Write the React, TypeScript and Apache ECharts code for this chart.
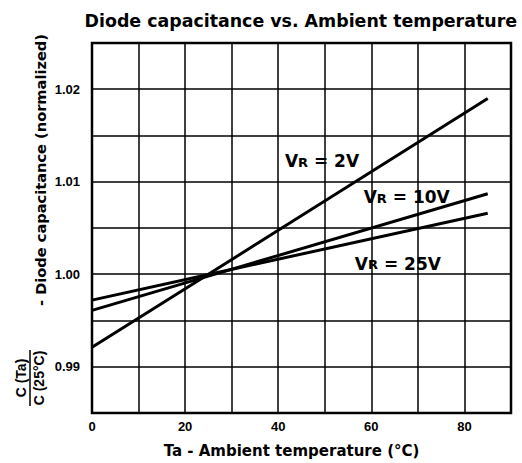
import React, { useEffect, useRef } from "react";
import * as echarts from "echarts";

const temps = [0, 25, 85];
const vr2 = [0.9921, 1.0, 1.019];
const vr10 = [0.9961, 0.9998, 1.0087];
const vr25 = [0.9972, 0.99997, 1.0066];
const seriesNames = ["2V", "10V", "25V"];
const xTickLabels = [0, 20, 40, 60, 80];
const yTickLabels = ["0.99", "1.00", "1.01", "1.02"];

const labelAnchors: [number, number][] = [
  [49.4, 1.0124],
  [67.6, 1.0085],
  [65.7, 1.0013],
];

export default function App() {
  const ref = useRef<HTMLDivElement>(null);
  useEffect(() => {
    if (!ref.current) return;
    const chart = echarts.init(ref.current, undefined, { renderer: "svg" });
    const font = "'Liberation Sans', Arial, sans-serif";
    const wide = "'DejaVu Sans', sans-serif";
    const all = [vr2, vr10, vr25];
    const series = all.map((vals, i) => ({
      type: "line",
      name: seriesNames[i],
      data: temps.map((t, j) => [t, vals[j]]),
      symbol: "none",
      lineStyle: { color: "#000", width: 3 },
      markPoint: {
        symbol: "circle",
        symbolSize: 0,
        data: [
          {
            coord: labelAnchors[i],
            label: {
              show: true,
              position: "inside",
              formatter: `{v|V}{r|R}{v| = ${seriesNames[i]}}`,
              rich: {
                v: { fontFamily: wide, fontWeight: "bold", fontSize: 17, color: "#000", lineHeight: 20, verticalAlign: "bottom" },
                r: { fontFamily: wide, fontWeight: "bold", fontSize: 13, color: "#000", lineHeight: 20, verticalAlign: "bottom", padding: [0, 0, 1, 0] },
              },
            },
          },
        ],
      },
    }));
    chart.setOption({
      animation: false,
      backgroundColor: "#fff",
      title: {
        text: "Diode capacitance vs. Ambient temperature",
        right: 0,
        top: 7,
        textStyle: { fontFamily: wide, fontWeight: "bold", fontSize: 17.4, color: "#000" },
      },
      grid: {
        left: 92,
        right: 11,
        top: 43,
        bottom: 48,
        show: true,
        borderColor: "#000",
        borderWidth: 2.5,
        backgroundColor: "transparent",
      },
      xAxis: {
        type: "value",
        min: 0,
        max: 90,
        interval: 10,
        axisLine: { show: false },
        axisTick: { show: false },
        splitLine: { show: true, lineStyle: { color: "#000", width: 1.5 } },
        axisLabel: {
          fontFamily: font,
          fontWeight: "bold",
          fontSize: 13,
          color: "#000",
          margin: 7,
          formatter: (v: number) => (xTickLabels.includes(Math.round(v)) ? String(Math.round(v)) : ""),
        },
        name: "Ta - Ambient temperature (°C)",
        nameLocation: "middle",
        nameGap: 30,
        nameTextStyle: { fontFamily: wide, fontWeight: "bold", fontSize: 15, color: "#000", padding: [0, 20, 0, 0] },
      },
      yAxis: {
        type: "value",
        min: 0.985,
        max: 1.025,
        interval: 0.005,
        axisLine: { show: false },
        axisTick: { show: false },
        splitLine: { show: true, lineStyle: { color: "#000", width: 1.5 } },
        axisLabel: {
          fontFamily: font,
          fontWeight: "bold",
          fontSize: 13,
          color: "#000",
          margin: 12,
          formatter: (v: number) => {
            const s = v.toFixed(2);
            const r = Math.round(v * 1000);
            return r % 10 === 0 && yTickLabels.includes(s) ? s : "";
          },
        },
      },
      graphic: [
        {
          type: "text",
          x: 40,
          y: 170,
          rotation: Math.PI / 2,
          style: {
            text: "- Diode capacitance (normalized)",
            fontFamily: wide,
            fontWeight: "bold",
            fontSize: 14.6,
            fill: "#000",
            align: "center",
            verticalAlign: "middle",
          },
        },
        {
          type: "group",
          x: 30,
          y: 378,
          rotation: Math.PI / 2,
          children: [
            {
              type: "text",
              x: 0,
              y: -9,
              style: {
                text: "C (Ta)",
                fontFamily: font,
                fontWeight: "bold",
                fontSize: 14,
                fill: "#000",
                align: "center",
                verticalAlign: "middle",
              },
            },
            {
              type: "line",
              shape: { x1: -28, y1: 0, x2: 28, y2: 0 },
              style: { stroke: "#000", lineWidth: 1.5 },
            },
            {
              type: "text",
              x: 0,
              y: 9,
              style: {
                text: "C (25°C)",
                fontFamily: font,
                fontWeight: "bold",
                fontSize: 14,
                fill: "#000",
                align: "center",
                verticalAlign: "middle",
              },
            },
          ],
        },
      ],
      series,
    });
    return () => chart.dispose();
  }, []);
  return <div ref={ref} style={{ position: "fixed", left: 0, top: 0, width: 522, height: 463 }} />;
}
